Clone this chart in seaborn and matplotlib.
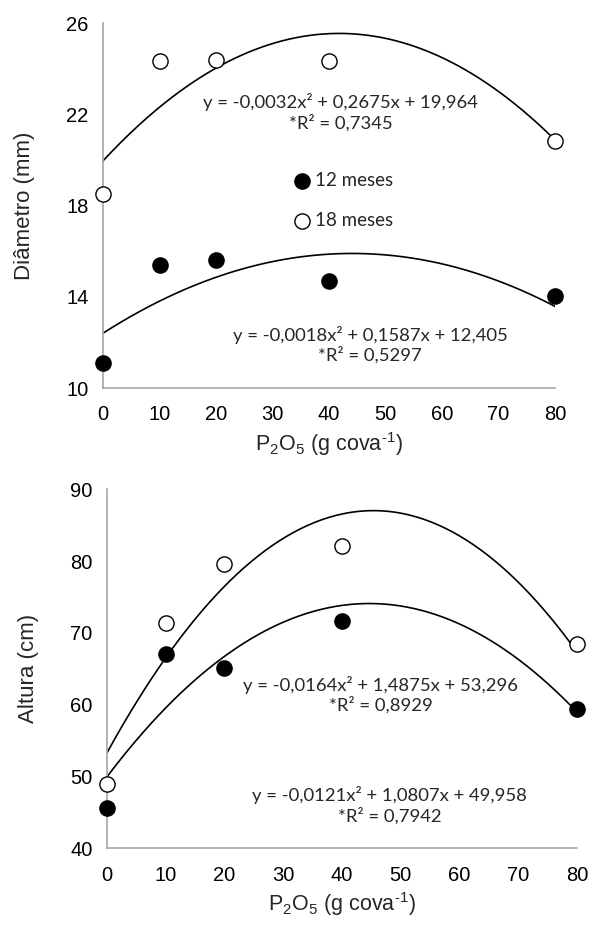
import numpy as np
import pandas as pd
import matplotlib
matplotlib.use("Agg")
import matplotlib.pyplot as plt
import seaborn as sns

# --- data ---
doses = [0, 10, 20, 40, 80]

diam_12 = [11.1, 15.4, 15.6, 14.7, 14.05]
diam_18 = [18.5, 24.35, 24.4, 24.35, 20.85]
alt_12 = [45.6, 67.1, 65.1, 71.7, 59.45]
alt_18 = [49.0, 71.4, 79.6, 82.1, 68.4]

# trend line coefficients (a, b, c) as printed in the chart
diam_fit_18 = (-0.0032, 0.2675, 19.964)
diam_fit_12 = (-0.0018, 0.1587, 12.405)
alt_fit_18 = (-0.0164, 1.4875, 53.296)
alt_fit_12 = (-0.0121, 1.0807, 49.958)

diam_eqs = ["y = -0,0032x² + 0,2675x + 19,964\n*R² = 0,7345",
            "y = -0,0018x² + 0,1587x + 12,405\n*R² = 0,5297"]
alt_eqs = ["y = -0,0164x² + 1,4875x + 53,296\n*R² = 0,8929",
           "y = -0,0121x² + 1,0807x + 49,958\n*R² = 0,7942"]

series_names = ["12 meses", "18 meses"]

sns.set_theme(style="white")
plt.rcParams["font.family"] = ["Liberation Sans", "DejaVu Sans"]
plt.rcParams["mathtext.fontset"] = "custom"
plt.rcParams["mathtext.rm"] = "Liberation Sans"
plt.rcParams["mathtext.it"] = "Liberation Sans:italic"
EQ_FONT = ["Lato", "DejaVu Sans"]
GREY = "#a6a6a6"

fig = plt.figure(figsize=(5.92, 9.27), dpi=100)
ax1 = fig.add_axes([0.174, 0.5814, 0.7635, 0.3935])
ax2 = fig.add_axes([0.1807, 0.0849, 0.794, 0.3873])

xs = np.linspace(0, 80, 200)


def draw_panel(ax, y12, y18, fits, ylabel, ylim, yticks):
    for coef in fits:
        a, b, c = coef
        curve = pd.DataFrame({"x": xs, "y": a * xs**2 + b * xs + c})
        sns.lineplot(data=curve, x="x", y="y", ax=ax, color="black",
                     linewidth=1.2, zorder=2)
    df12 = pd.DataFrame({"x": doses, "y": y12})
    df18 = pd.DataFrame({"x": doses, "y": y18})
    sns.scatterplot(data=df12, x="x", y="y", ax=ax, color="black",
                    edgecolor="black", s=120, linewidth=1, zorder=3,
                    clip_on=False, label=series_names[0])
    sns.scatterplot(data=df18, x="x", y="y", ax=ax, color="white",
                    edgecolor="black", s=120, linewidth=1, zorder=3,
                    clip_on=False, label=series_names[1])
    ax.set_xlim(0, 80)
    ax.set_ylim(*ylim)
    ax.set_xticks(range(0, 81, 10))
    ax.set_yticks(yticks)
    ax.set_xlabel(r"P$_2$O$_5$ (g cova$^{\text{-1}}$)", fontsize=15.5,
                  labelpad=4)
    ax.set_ylabel(ylabel, fontsize=16, labelpad=22)
    ax.tick_params(axis="both", labelsize=14.5, colors="black",
                   length=4.5, width=1, direction="out", color=GREY)
    ax.tick_params(axis="x", pad=8)
    ax.tick_params(axis="y", pad=6)
    for side in ["top", "right"]:
        ax.spines[side].set_visible(False)
    for side in ["left", "bottom"]:
        ax.spines[side].set_color(GREY)
        ax.spines[side].set_linewidth(1.2)
    ax.grid(False)


draw_panel(ax1, diam_12, diam_18, [diam_fit_18, diam_fit_12],
           "Diâmetro (mm)", (10, 26), [10, 14, 18, 22, 26])
draw_panel(ax2, alt_12, alt_18, [alt_fit_18, alt_fit_12],
           "Altura (cm)", (40, 90), [40, 50, 60, 70, 80, 90])

# legend only on the top panel
ax1.legend(loc="center left", bbox_to_anchor=(0.424, 0.514), frameon=False,
           handlelength=0.8, handletextpad=0.3, borderpad=0,
           borderaxespad=0, labelspacing=1.25,
           prop={"family": EQ_FONT, "size": 13.5})
ax2.get_legend().remove()

# equations
eq_kw = dict(ha="center", va="center", fontsize=13.3, family=EQ_FONT,
             linespacing=1.2)
ax1.text(42.1, 22.1, diam_eqs[0], **eq_kw)
ax1.text(47.3, 11.9, diam_eqs[1], **eq_kw)
ax2.text(46.6, 61.4, alt_eqs[0], **eq_kw)
ax2.text(48.1, 46.0, alt_eqs[1], **eq_kw)

fig.savefig("out.png", dpi=100)
